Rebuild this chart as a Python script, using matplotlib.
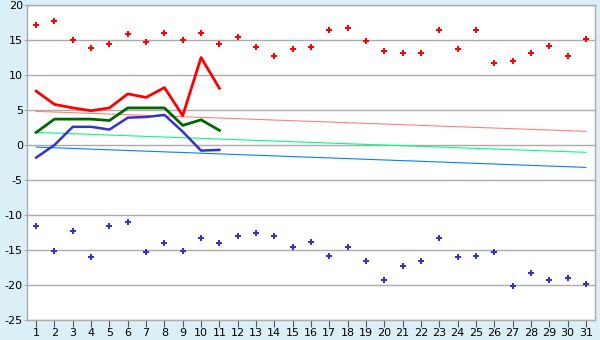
import numpy as np
import matplotlib
matplotlib.use("Agg")
import matplotlib.pyplot as plt

plt.rcParams['axes.unicode_minus'] = False

days = np.arange(1, 32)

# scattered points
red_pts = [17.2, 17.7, 15.0, 13.8, 14.4, 15.8, 14.7, 16.0, 15.0, 16.0, 14.4,
           15.4, 14.0, 12.7, 13.7, 14.0, 16.4, 16.7, 14.8, 13.4, 13.2, 13.2,
           16.4, 13.7, 16.5, 11.7, 12.0, 13.1, 14.2, 12.7, 15.1]
blue_pts = [-11.6, -15.2, -12.3, -16.0, -11.6, -11.0, -15.3, -14.0, -15.2, -13.3,
            -14.0, -13.0, -12.5, -13.0, -14.5, -13.9, -15.8, -14.6, -16.6, -19.3,
            -17.3, -16.6, -13.3, -16.0, -15.9, -15.3, -20.2, -18.3, -19.3, -19.0,
            -19.8]

# thick lines, first 11 days only
days_short = days[:11]
red_line = [7.7, 5.8, 5.3, 4.9, 5.3, 7.3, 6.8, 8.2, 4.2, 12.5, 8.1]
green_line = [1.8, 3.7, 3.7, 3.7, 3.5, 5.3, 5.3, 5.3, 2.8, 3.6, 2.1]
blue_line = [-1.8, 0.0, 2.6, 2.6, 2.2, 3.9, 4.0, 4.3, 1.9, -0.8, -0.7]

# thin trend lines (start, end)
trend_days = [1, 31]
pink_trend = [4.8, 1.95]
lgreen_trend = [1.8, -1.05]
lblue_trend = [-0.3, -3.2]

bg = '#daf0f6'
grid_col = '#aaaaaa'

fig = plt.figure(figsize=(6, 3.4), dpi=100, facecolor=bg)
ax = fig.add_axes([27/600, 1-320/340, (595-27)/600, 315/340])
ax.set_facecolor('white')

ax.plot(trend_days, pink_trend, color='#ff8080', linewidth=0.8)
ax.plot(trend_days, lgreen_trend, color='#00ff80', linewidth=0.8)
ax.plot(trend_days, lblue_trend, color='#0080ff', linewidth=0.8)

ax.plot(days_short, red_line, color='#ff0000', linewidth=2.0)
ax.plot(days_short, green_line, color='#006600', linewidth=2.0)
ax.plot(days_short, blue_line, color='#3333cc', linewidth=1.8)

ax.plot(days, red_pts, linestyle='none', marker='P', markersize=5,
        color='#ff0000', markeredgewidth=0)
ax.plot(days, blue_pts, linestyle='none', marker='P', markersize=5,
        color='#3333cc', markeredgewidth=0)

ax.set_xlim(0.5, 31.5)
ax.set_ylim(-25, 20)
ax.set_xticks(days)
ax.set_yticks(np.arange(-25, 21, 5))
ax.yaxis.grid(True, color=grid_col, linewidth=1.0)
ax.set_axisbelow(True)
for s in ax.spines.values():
    s.set_color(grid_col)
    s.set_linewidth(1.0)
ax.tick_params(axis='x', length=5, color='#555555', labelsize=8, pad=1)
ax.tick_params(axis='y', length=2, color=grid_col, labelsize=8, pad=1)

fig.savefig('out.png', dpi=100, facecolor=bg)
